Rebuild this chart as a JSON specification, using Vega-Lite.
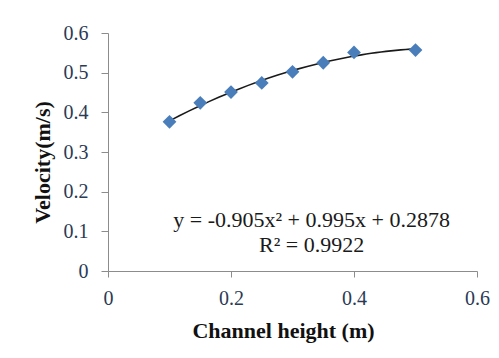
{
  "$schema": "https://vega.github.io/schema/vega-lite/v6.json",
  "width": 369,
  "height": 238,
  "autosize": {"type": "none"},
  "padding": {"left": 108, "top": 33, "right": 22, "bottom": 87},
  "background": "white",
  "config": {
    "view": {"stroke": null},
    "font": "Liberation Serif",
    "axis": {
      "grid": false,
      "domainColor": "#8c8c8c",
      "tickColor": "#8c8c8c",
      "labelFont": "Liberation Serif",
      "labelFontSize": 20,
      "labelColor": "#2b3a55",
      "labelOverlap": false,
      "labelFlush": false,
      "titleFont": "Liberation Serif",
      "titleFontSize": 22,
      "titleFontWeight": "bold",
      "titleColor": "#111111"
    }
  },
  "data": {
    "values": [
      {"h": 0.1, "v": 0.376},
      {"h": 0.15, "v": 0.424},
      {"h": 0.2, "v": 0.451},
      {"h": 0.25, "v": 0.474},
      {"h": 0.3, "v": 0.502},
      {"h": 0.35, "v": 0.525},
      {"h": 0.4, "v": 0.551},
      {"h": 0.5, "v": 0.557}
    ]
  },
  "encoding": {
    "x": {
      "field": "h", "type": "quantitative",
      "scale": {"domain": [0, 0.6], "nice": false, "zero": true},
      "axis": {
        "title": "Channel height (m)",
        "values": [0, 0.2, 0.4, 0.6],
        "format": "~g",
        "tickSize": 6,
        "labelPadding": 11,
        "labelOverlap": false,
        "labelFlush": false,
        "titleX": 175,
        "titleY": 59,
        "titleBaseline": "middle"
      }
    },
    "y": {
      "field": "v", "type": "quantitative",
      "scale": {"domain": [0, 0.6], "nice": false},
      "axis": {
        "title": "Velocity(m/s)",
        "values": [0, 0.1, 0.2, 0.3, 0.4, 0.5, 0.6],
        "tickCount": 7,
        "format": ".1~f",
        "tickSize": 7,
        "labelPadding": 13,
        "labelOverlap": false,
        "labelFlush": false,
        "labelSeparation": 0,
        "titleX": -66,
        "titleY": 129,
        "titleBaseline": "middle"
      }
    }
  },
  "layer": [
    {
      "transform": [
        {"regression": "v", "on": "h", "method": "poly", "order": 2, "extent": [0.1, 0.5]}
      ],
      "mark": {"type": "line", "color": "#1a1a1a", "strokeWidth": 1.6}
    },
    {
      "mark": {"type": "point", "shape": "diamond", "filled": true, "color": "#4a7ebb", "size": 190, "opacity": 1}
    },
    {
      "data": {
        "values": [
          {"h": 0.331, "v": 0.1286, "label": "y = -0.905x² + 0.995x + 0.2878"},
          {"h": 0.331, "v": 0.0655, "label": "R² = 0.9922"}
        ]
      },
      "mark": {"type": "text", "font": "Liberation Serif", "fontSize": 22, "color": "#1a1a1a", "align": "center", "baseline": "middle"},
      "encoding": {
        "text": {"field": "label"}
      }
    }
  ]
}
